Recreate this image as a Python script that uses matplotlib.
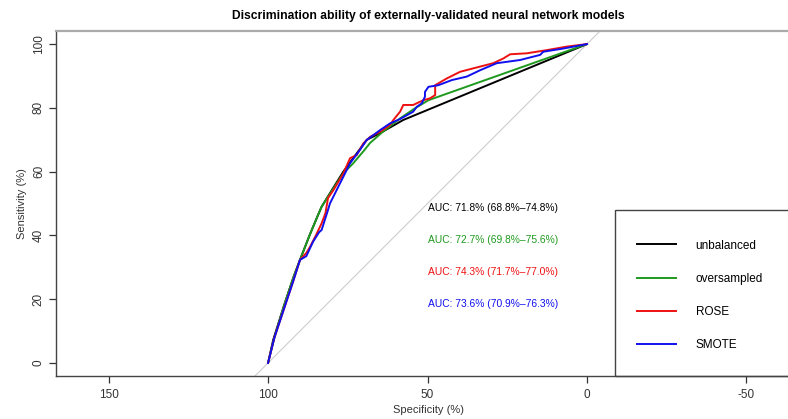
#! /usr/bin/env python3

import matplotlib
matplotlib.use('Agg')
import matplotlib.pyplot as plt
from matplotlib.patches import Rectangle

plt.rcParams['font.family'] = ['Liberation Sans', 'DejaVu Sans']
plt.rcParams['axes.unicode_minus'] = False

# ROC curves: specificity (%) and sensitivity (%)
unbal_spec = [100, 98.4, 95, 92, 90, 87, 84.5, 83.2, 80, 76.4, 72, 69, 65, 57.6, 0]
unbal_sens = [0, 7.2, 18, 27, 32.3, 40, 46, 49, 54.2, 60, 66, 70, 72, 76.2, 100]

over_spec = [100, 98, 95, 92, 90, 87, 84.5, 83.2, 80, 76.4, 73.4, 70, 68, 64, 58.6, 54.5, 49.7, 0]
over_sens = [0, 8, 18, 27, 32.3, 40, 46, 49, 54, 59.5, 62.5, 66.5, 69, 72.5, 76.7, 79.5, 82.4, 100]

rose_spec = [100, 98, 95, 92, 90, 88, 86.8, 85, 83.2, 82, 81.2, 79.5, 76.4, 74.3, 72.2, 70.1, 68,
             64.9, 61.8, 60.7, 58.6, 57.6, 54.5, 51.3, 49.2, 47.6, 47.6, 44, 39.8, 35.6, 29.4,
             26.2, 24.1, 18.9, 12.6, 6.4, 0]
rose_sens = [0, 8, 17, 26, 32.3, 34.5, 36.5, 40, 43.8, 47, 51.7, 54.2, 59.4, 64.2, 65.2, 68.9, 70.9,
             72.5, 74.6, 76.2, 78.8, 80.9, 80.9, 82.4, 83, 84, 87.1, 89.2, 91.3, 92.4, 94,
             95.5, 96.8, 97.1, 98.1, 99.2, 100]

smote_spec = [100, 98, 95, 92, 90, 88, 85.9, 84, 83.2, 81.2, 80.6, 78.5, 76.4, 74.3, 71.2, 69.1,
              64.9, 61.8, 58.6, 54.5, 53.4, 51.8, 50.8, 50.8, 49.7, 46.6, 42.4, 37.7, 33.5, 28.3,
              21, 14.7, 13.7, 7.4, 0]
smote_sens = [0, 8, 17, 26, 32.3, 33.5, 38, 41, 41.7, 48, 50, 54.2, 58.4, 62.6, 66.8, 69.9,
              73, 75.1, 76.5, 78.8, 80.3, 81.4, 83.5, 85, 86.6, 87.1, 88.7, 89.8, 91.8, 94,
              95, 96.6, 97.6, 98.6, 100]

models = ["unbalanced", "oversampled", "ROSE", "SMOTE"]
auc_labels = ["AUC: 71.8% (68.8%\u201374.8%)", "AUC: 72.7% (69.8%\u201375.6%)",
              "AUC: 74.3% (71.7%\u201377.0%)", "AUC: 73.6% (70.9%\u201376.3%)"]
auc_y = [48.6, 38.4, 28.5, 18.5]
colors = ["black", "#1f9a1f", "#ee1111", "#1010ee"]

curves = [(unbal_spec, unbal_sens), (over_spec, over_sens),
          (rose_spec, rose_sens), (smote_spec, smote_sens)]

W, H = 788, 419
fig = plt.figure(figsize=(W/100, H/100), dpi=100)
ax = fig.add_axes([56/W, (H-376)/H, (800-56)/W, (376-31)/H])

ax.axline((100, 0), (0, 100), color='#cccccc', lw=0.8, zorder=1)

handles = []
for (sp, se), c, name in zip(curves, colors, models):
    h, = ax.plot(sp, se, color=c, lw=1.4, label=name, zorder=2)
    handles.append(h)

for lab, y, c in zip(auc_labels, auc_y, colors):
    ax.text(49.8, y, lab, color=c, fontsize=7.4, ha='left', va='center')

ax.set_xlim(166.5, -66.8)
ax.set_ylim(-4.1, 104.1)
ax.set_xticks([150, 100, 50, 0, -50])
ax.set_yticks([0, 20, 40, 60, 80, 100])
ax.tick_params(axis='both', colors='#333333', labelsize=8.5, length=5, width=0.9)
ax.tick_params(axis='x', pad=4)
ax.tick_params(axis='y', pad=3)
for t in ax.get_yticklabels():
    t.set_rotation(90)
    t.set_va('center')

for s in ['left', 'bottom']:
    ax.spines[s].set_color('#444444')
    ax.spines[s].set_linewidth(1.0)
ax.spines['top'].set_color('#aaaaaa')
ax.spines['top'].set_linewidth(1.6)
ax.spines['right'].set_visible(False)

ax.set_xlabel("Specificity (%)", fontsize=8, color='#333333', labelpad=3)
ax.set_ylabel("Sensitivity (%)", fontsize=8, color='#333333', labelpad=4)
ax.set_title("Discrimination ability of externally-validated neural network models",
             fontsize=8.7, fontweight='bold', pad=9)

# legend box like R's, running off the right edge
fig.add_artist(Rectangle((615/W, (H-376)/H), (800-615)/W, (376-210)/H,
                         transform=fig.transFigure, fill=False, ec='#444444', lw=1.0,
                         clip_on=False))
leg = fig.legend(handles=handles, loc='upper left', bbox_to_anchor=(626/W, 1-229/H),
                 frameon=False, fontsize=8.5, handlelength=3.3, handletextpad=1.7,
                 labelspacing=1.8)
for l in leg.get_lines():
    l.set_linewidth(1.4)

plt.savefig("out.png", dpi=100)
